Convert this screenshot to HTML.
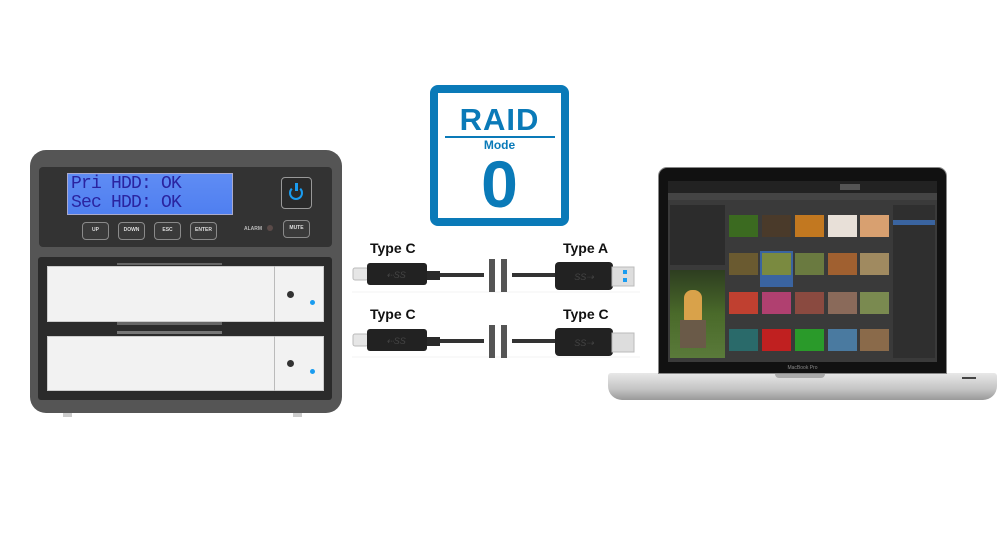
<!DOCTYPE html>
<html><head><style>
*{margin:0;padding:0;box-sizing:border-box}
body{width:1000px;height:550px;background:#fff;position:relative;overflow:hidden;font-family:"Liberation Sans",sans-serif}
.a{position:absolute}
.btn{position:absolute;top:222px;width:27px;height:18px;border:1.5px solid #8a8a8a;border-radius:4px;background:#3a3a3a;color:#ddd;font-size:5px;font-weight:bold;text-align:center;line-height:15px}
.lbl{position:absolute;font-weight:bold;font-size:14px;color:#111}
.thumb{position:absolute;width:29px;height:22px}
</style></head><body>
<!-- enclosure -->
<div class="a" style="left:30px;top:150px;width:312px;height:263px;background:#555;border-radius:16px"></div>
<div class="a" style="left:39px;top:167px;width:293px;height:80px;background:#333;border-radius:4px"></div>
<div class="a" style="left:67px;top:173px;width:166px;height:42px;background:linear-gradient(#5f8cf4,#4f7ff0);border:1px solid #aac"></div>
<div class="a" style="left:71px;top:175px;font-family:'Liberation Mono',monospace;font-size:18px;line-height:19px;color:#2a24a0;letter-spacing:-0.8px">Pri HDD: OK<br>Sec HDD: OK</div>
<div class="a" style="left:281px;top:177px;width:31px;height:32px;border:1.5px solid #999;border-radius:4px;background:#2a2a2a"></div>
<div class="a" style="left:289px;top:186px;width:14px;height:14px;border:2.5px solid #1a9cf0;border-top-color:transparent;border-radius:50%"></div>
<div class="a" style="left:295px;top:183px;width:2.5px;height:8px;background:#1a9cf0"></div>
<div class="btn" style="left:82px">UP</div>
<div class="btn" style="left:118px">DOWN</div>
<div class="btn" style="left:154px">ESC</div>
<div class="btn" style="left:190px">ENTER</div>
<div class="a" style="left:244px;top:226px;font-size:5px;font-weight:bold;color:#bbb">ALARM</div>
<div class="a" style="left:267px;top:225px;width:6px;height:6px;border-radius:50%;background:#5a4a48"></div>
<div class="btn" style="left:283px;top:220px">MUTE</div>
<div class="a" style="left:38px;top:257px;width:294px;height:143px;background:#2b2b2b;border-radius:3px"></div>
<div class="a" style="left:47px;top:266px;width:277px;height:56px;background:#f2f2f2;border:1px solid #ccc"></div>
<div class="a" style="left:274px;top:266px;width:1px;height:56px;background:#bbb"></div>
<div class="a" style="left:47px;top:336px;width:277px;height:55px;background:#f2f2f2;border:1px solid #ccc"></div>
<div class="a" style="left:274px;top:336px;width:1px;height:55px;background:#bbb"></div>
<div class="a" style="left:117px;top:322px;width:105px;height:3px;background:#666"></div>
<div class="a" style="left:117px;top:331px;width:105px;height:3px;background:#777"></div>
<div class="a" style="left:117px;top:263px;width:105px;height:2px;background:#666"></div>
<div class="a" style="left:287px;top:291px;width:7px;height:7px;border-radius:50%;background:#333"></div>
<div class="a" style="left:310px;top:300px;width:5px;height:5px;border-radius:50%;background:#1a9cf0"></div>
<div class="a" style="left:287px;top:360px;width:7px;height:7px;border-radius:50%;background:#333"></div>
<div class="a" style="left:310px;top:369px;width:5px;height:5px;border-radius:50%;background:#1a9cf0"></div>
<div class="a" style="left:63px;top:413px;width:9px;height:4px;background:#ccc"></div>
<div class="a" style="left:293px;top:413px;width:9px;height:4px;background:#ccc"></div>

<!-- RAID box -->
<div class="a" style="left:430px;top:85px;width:139px;height:141px;border:8px solid #0a7ab8;border-radius:8px;background:#fff"></div>
<div class="a" style="left:430px;top:102px;width:139px;text-align:center;font-size:31px;font-weight:bold;color:#0a7ab8;letter-spacing:1px">RAID</div>
<div class="a" style="left:445px;top:136px;width:110px;height:2px;background:#0a7ab8"></div>
<div class="a" style="left:430px;top:138px;width:139px;text-align:center;font-size:12px;font-weight:bold;color:#0a7ab8">Mode</div>
<div class="a" style="left:430px;top:148px;width:139px;text-align:center;font-size:66px;font-weight:bold;color:#0a7ab8;line-height:72px">0</div>

<!-- cables -->
<div class="lbl" style="left:370px;top:240px">Type C</div>
<div class="lbl" style="left:563px;top:240px">Type A</div>
<div class="lbl" style="left:370px;top:306px">Type C</div>
<div class="lbl" style="left:563px;top:306px">Type C</div>
<svg class="a" style="left:0;top:0" width="1000" height="550">
 <line x1="352" y1="292" x2="640" y2="292" stroke="#f3f3f3"/>
 <line x1="352" y1="357" x2="640" y2="357" stroke="#f3f3f3"/>
 <g id="r1">
  <rect x="353" y="268" width="15" height="12" rx="2" fill="#e6e6e6" stroke="#bbb"/>
  <rect x="367" y="263" width="60" height="22" rx="3" fill="#222"/>
  <text x="396" y="278" font-size="9" font-style="italic" fill="#444" text-anchor="middle" font-family="Liberation Sans">⇠SS</text>
  <rect x="427" y="271" width="13" height="9" fill="#2a2a2a"/>
  <rect x="440" y="273" width="44" height="4" fill="#333"/>
  <rect x="489" y="259" width="6" height="33" fill="#555"/>
  <rect x="501" y="259" width="6" height="33" fill="#555"/>
  <rect x="512" y="273" width="44" height="4" fill="#333"/>
  <rect x="555" y="262" width="58" height="28" rx="4" fill="#222"/>
  <text x="584" y="280" font-size="9" font-style="italic" fill="#444" text-anchor="middle" font-family="Liberation Sans">SS⇢</text>
 </g>
 <rect x="612" y="267" width="22" height="19" fill="#ddd" stroke="#bbb"/>
 <rect x="623" y="270" width="4" height="4" fill="#1a9cf0"/>
 <rect x="623" y="278" width="4" height="4" fill="#1a9cf0"/>
 <use href="#r1" y="66"/>
 <rect x="612" y="333" width="22" height="19" fill="#ddd" stroke="#bbb"/>
</svg>

<!-- laptop -->
<div class="a" style="left:608px;top:373px;width:389px;height:27px;background:linear-gradient(#e8e8e8,#c4c4c4 60%,#999);border-radius:3px 3px 14px 14px"></div>
<div class="a" style="left:775px;top:373px;width:50px;height:5px;background:#aaa;border-radius:0 0 4px 4px"></div>
<div class="a" style="left:962px;top:377px;width:14px;height:2px;background:#444"></div>
<div class="a" style="left:658px;top:167px;width:289px;height:207px;background:#111;border-radius:9px 9px 0 0;border:1px solid #888"></div>
<div class="a" style="left:668px;top:181px;width:269px;height:181px;background:#3a3a3a"></div>
<div class="a" style="left:668px;top:181px;width:269px;height:12px;background:#222"></div>
<div class="a" style="left:668px;top:193px;width:269px;height:7px;background:#444"></div>
<div class="a" style="left:840px;top:184px;width:20px;height:6px;background:#555"></div>
<div class="a" style="left:670px;top:205px;width:55px;height:60px;background:#2c2c2c"></div>
<div class="a" style="left:670px;top:270px;width:55px;height:88px;background:linear-gradient(#2d3d20,#4a6a2a 50%,#5a7a3a)"></div>
<div class="a" style="left:684px;top:290px;width:18px;height:32px;background:#d9a24a;border-radius:8px 8px 3px 3px"></div>
<div class="a" style="left:680px;top:320px;width:26px;height:28px;background:#6a5a48"></div>
<div class="a" style="left:893px;top:205px;width:42px;height:153px;background:#2f2f2f"></div>
<div class="a" style="left:893px;top:220px;width:42px;height:5px;background:#3a64a0"></div>
<div class="thumb" style="left:729px;top:215px;background:#3b6a20"></div>
<div class="thumb" style="left:762px;top:215px;background:#4a3a2a"></div>
<div class="thumb" style="left:795px;top:215px;background:#c27820"></div>
<div class="thumb" style="left:828px;top:215px;background:#e8e0d8"></div>
<div class="thumb" style="left:860px;top:215px;background:#d8a070"></div>
<div class="thumb" style="left:729px;top:253px;background:#6a5a30"></div>
<div class="a" style="left:760px;top:251px;width:33px;height:36px;background:#3a64a0"></div>
<div class="thumb" style="left:762px;top:253px;background:#7a8a40"></div>
<div class="thumb" style="left:795px;top:253px;background:#6a7a40"></div>
<div class="thumb" style="left:828px;top:253px;background:#a06030"></div>
<div class="thumb" style="left:860px;top:253px;background:#a08a60"></div>
<div class="thumb" style="left:729px;top:292px;background:#c04030"></div>
<div class="thumb" style="left:762px;top:292px;background:#b04070"></div>
<div class="thumb" style="left:795px;top:292px;background:#8a4a40"></div>
<div class="thumb" style="left:828px;top:292px;background:#8a6a5a"></div>
<div class="thumb" style="left:860px;top:292px;background:#7a8a50"></div>
<div class="thumb" style="left:729px;top:329px;background:#2a6a6a"></div>
<div class="thumb" style="left:762px;top:329px;background:#c02020"></div>
<div class="thumb" style="left:795px;top:329px;background:#2a9a2a"></div>
<div class="thumb" style="left:828px;top:329px;background:#4a7aa0"></div>
<div class="thumb" style="left:860px;top:329px;background:#8a6a4a"></div>
<div class="a" style="left:668px;top:362px;width:269px;height:12px;text-align:center;font-size:5px;color:#888;line-height:12px">MacBook Pro</div>
</body></html>
